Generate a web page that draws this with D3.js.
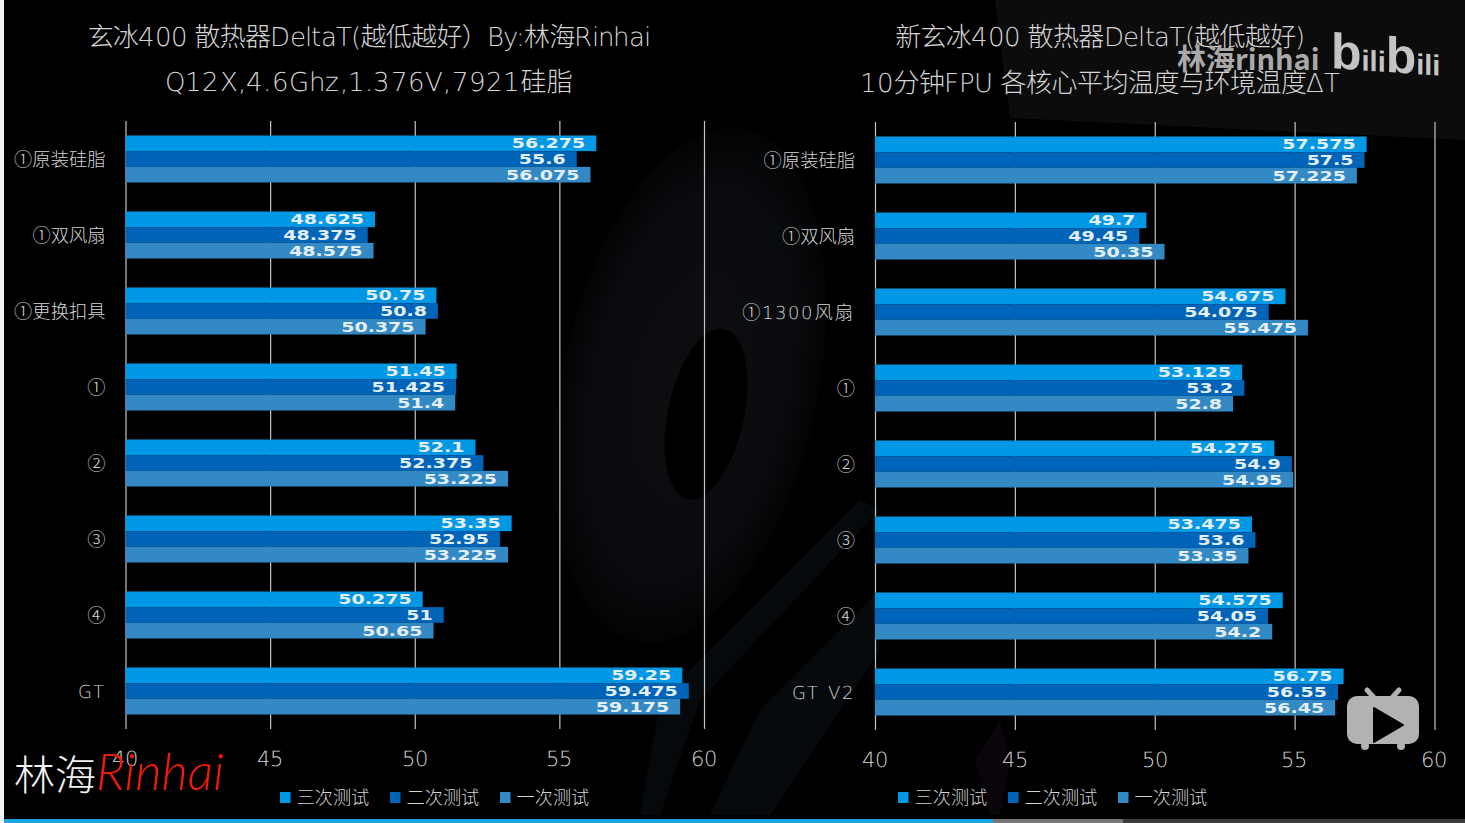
<!DOCTYPE html>
<html><head><meta charset="utf-8">
<script src="https://cdn.jsdelivr.net/npm/d3@7"></script>
<style>
@font-face{font-family:WideLatin;src:local("DejaVu Sans ExtraLight"),local("DejaVuSans-ExtraLight");unicode-range:U+0020-024F,U+0394}
html,body{margin:0;padding:0;background:#000;overflow:hidden}
svg{display:block}
text{font-family:WideLatin,"Noto Sans CJK SC",sans-serif;font-weight:200}
</style></head><body>
<svg id="c" width="1465" height="823"></svg>
<script>
const categoriesLeft=["①原装硅脂","①双风扇","①更换扣具","①","②","③","④","GT"];
const thirdLeft=[56.275,48.625,50.75,51.45,52.1,53.35,50.275,59.25];
const secondLeft=[55.6,48.375,50.8,51.425,52.375,52.95,51,59.475];
const firstLeft=[56.075,48.575,50.375,51.4,53.225,53.225,50.65,59.175];
const categoriesRight=["①原装硅脂","①双风扇","①1300风扇","①","②","③","④","GT V2"];
const thirdRight=[57.575,49.7,54.675,53.125,54.275,53.475,54.575,56.75];
const secondRight=[57.5,49.45,54.075,53.2,54.9,53.6,54.05,56.55];
const firstRight=[57.225,50.35,55.475,52.8,54.95,53.35,54.2,56.45];
const seriesNames=["三次测试","二次测试","一次测试"];
const seriesColors=["#0098e4","#0065b8","#3289c3"];
const tickValues=[40,45,50,55,60];

const svg=d3.select("#c");
const textCol="#d4d4d4";
svg.append("rect").attr("width",1465).attr("height",823).attr("fill","#000");

const defs=svg.append("defs");
const g=defs.append("radialGradient").attr("id","fan");
g.append("stop").attr("offset","0%").attr("stop-color","#0d0e10");
g.append("stop").attr("offset","75%").attr("stop-color","#090b0e");
g.append("stop").attr("offset","100%").attr("stop-color","#020304");
const bg=svg.append("g");
bg.append("path").attr("d","M995 0H1465V140L1010 118Z").attr("fill","#0c0c0c");
bg.append("ellipse").attr("cx",690).attr("cy",385).attr("rx",128).attr("ry",262)
  .attr("transform","rotate(12 690 385)").attr("fill","url(#fan)");
bg.append("ellipse").attr("cx",706).attr("cy",414).attr("rx",38).attr("ry",87)
  .attr("transform","rotate(12 706 414)").attr("fill","#000");
bg.append("path").attr("d","M860 500L880 510L700 700L660 815L640 815L660 700Z").attr("fill","#06090b");
bg.append("path").attr("d","M880 590L880 650L770 815L710 815L760 710Z").attr("fill","#060a0d");
bg.append("path").attr("d","M1000 720L1010 760L1000 815L990 815L975 760Z").attr("fill","#0a050b");

function chart(o){
  const x=d3.scaleLinear().domain([40,60]).range([o.x0,o.x1]);
  const y=d3.scaleBand().domain(o.cats).range([o.y0,o.y1]).paddingInner(0.3816).paddingOuter(0.1908);
  const inner=d3.scaleBand().domain(seriesNames).range([0,y.bandwidth()]);
  const root=svg.append("g");
  const ax=d3.axisBottom(x).tickValues(tickValues).tickSize(o.y1-o.y0).tickFormat(d3.format("d"));
  const a=root.append("g").attr("transform",`translate(0,${o.y0})`).call(ax);
  a.select(".domain").remove();
  a.selectAll("line").attr("stroke","#c4c4c4").attr("stroke-width",1.2);
  a.selectAll("text").attr("fill",textCol).attr("font-size",21).attr("x",-0.7).attr("y",o.y1-o.y0+36.5).attr("dy",0)
    .attr("style","font-family:WideLatin;font-weight:200");
  const ay=d3.axisLeft(y).tickSize(0).tickPadding(20);
  const b=root.append("g").attr("transform",`translate(${o.x0},0)`).call(ay);
  b.select(".domain").remove();
  b.selectAll("text").attr("fill",textCol).attr("font-size",18.3).attr("dy","0.36em")
    .attr("letter-spacing",d=>/[0-9A-Z]/.test(d)?2:0)
    .attr("style","font-family:WideLatin,'Noto Sans CJK SC';font-weight:200");
  [o.third,o.second,o.first].forEach((vals,si)=>{
    const name=seriesNames[si];
    const s=root.append("g");
    s.selectAll("rect").data(vals).join("rect")
      .attr("x",x(40)).attr("y",(d,i)=>y(o.cats[i])+inner(name))
      .attr("width",d=>x(d)-x(40)).attr("height",inner.bandwidth()).attr("fill",seriesColors[si]);
    s.selectAll("text").data(vals).join("text")
      .attr("transform",(d,i)=>`translate(${x(d)-11},${y(o.cats[i])+inner(name)+inner.bandwidth()/2+5}) scale(1.36,0.95)`)
      .attr("text-anchor","end").attr("fill","#e4eef7").attr("font-size",14)
      .attr("style","font-family:'DejaVu Sans';font-weight:700").text(d=>String(d));
  });
  o.titles.forEach((t,i)=>root.append("text").attr("x",o.tx).attr("y",i?o.ty2:o.ty1)
    .attr("text-anchor","middle").attr("fill",textCol).attr("font-size",26).attr("letter-spacing",o.ls[i]).text(t));
  seriesNames.forEach((n,i)=>{
    const lx=o.lx+i*110;
    root.append("rect").attr("x",lx).attr("y",792).attr("width",10.5).attr("height",11).attr("fill",seriesColors[i]);
    root.append("text").attr("x",lx+16.5).attr("y",804).attr("fill",textCol).attr("font-size",18.2).text(n);
  });
}
chart({cats:categoriesLeft,third:thirdLeft,second:secondLeft,first:firstLeft,x0:125.5,x1:704,y0:121,y1:729,
  titles:["玄冰400 散热器DeltaT(越低越好）By:林海Rinhai","Q12X,4.6Ghz,1.376V,7921硅脂"],ls:[-0.7,0.25],tx:369,ty1:46,ty2:91,lx:280});
chart({cats:categoriesRight,third:thirdRight,second:secondRight,first:firstRight,x0:875,x1:1434.5,y0:122,y1:730,
  titles:["新玄冰400 散热器DeltaT(越低越好)","10分钟FPU 各核心平均温度与环境温度ΔT"],ls:[-0.65,-0.5],tx:1100,ty1:46,ty2:92,lx:898});

svg.append("rect").attr("x",0).attr("y",0).attr("width",4).attr("height",823).attr("fill","#f4f4f4");
svg.append("rect").attr("x",4).attr("y",819).attr("width",989).attr("height",4).attr("fill","#1ba6e2");
svg.append("rect").attr("x",993).attr("y",819).attr("width",130).attr("height",4).attr("fill","#777");
svg.append("rect").attr("x",1123).attr("y",819).attr("width",342).attr("height",4).attr("fill","#3c3c3c");

const wm=svg.append("text").attr("x",14).attr("y",790).attr("font-size",41);
wm.append("tspan").attr("fill","#f2f2f2").text("林海");
wm.append("tspan").attr("fill","#f01a08").attr("font-style","italic").attr("font-size",51)
  .attr("style","font-family:Lato;font-weight:300").text("Rinhai");

svg.append("text").attr("x",1177).attr("y",70).attr("font-size",29).attr("fill","#a9a9a9")
  .attr("style","font-family:'Noto Sans CJK SC';font-weight:700").text("林海rinhai");
const bl=svg.append("text").attr("transform","translate(1331,68) skewY(4)").attr("fill","#c4c4c4")
  .attr("style","font-family:'Liberation Sans';font-weight:700");
[["b",50],["ili",29],["b",50],["ili",29]].forEach(([t,s])=>bl.append("tspan").attr("font-size",s).text(t));

const tv=svg.append("g");
tv.append("line").attr("x1",1367).attr("y1",690).attr("x2",1377).attr("y2",701).attr("stroke","#b2b2b2").attr("stroke-width",5).attr("stroke-linecap","round");
tv.append("line").attr("x1",1399).attr("y1",690).attr("x2",1389).attr("y2",701).attr("stroke","#b2b2b2").attr("stroke-width",5).attr("stroke-linecap","round");
tv.append("rect").attr("x",1347).attr("y",696).attr("width",72).attr("height",48).attr("rx",10).attr("fill","#b2b2b2");
tv.append("circle").attr("cx",1365).attr("cy",746).attr("r",4).attr("fill","#b2b2b2");
tv.append("circle").attr("cx",1401).attr("cy",746).attr("r",4).attr("fill","#b2b2b2");
tv.append("path").attr("d","M1374 708L1403 725L1374 742Z").attr("fill","#000").attr("stroke","#000").attr("stroke-width",2).attr("stroke-linejoin","round");
</script>
</body></html>
